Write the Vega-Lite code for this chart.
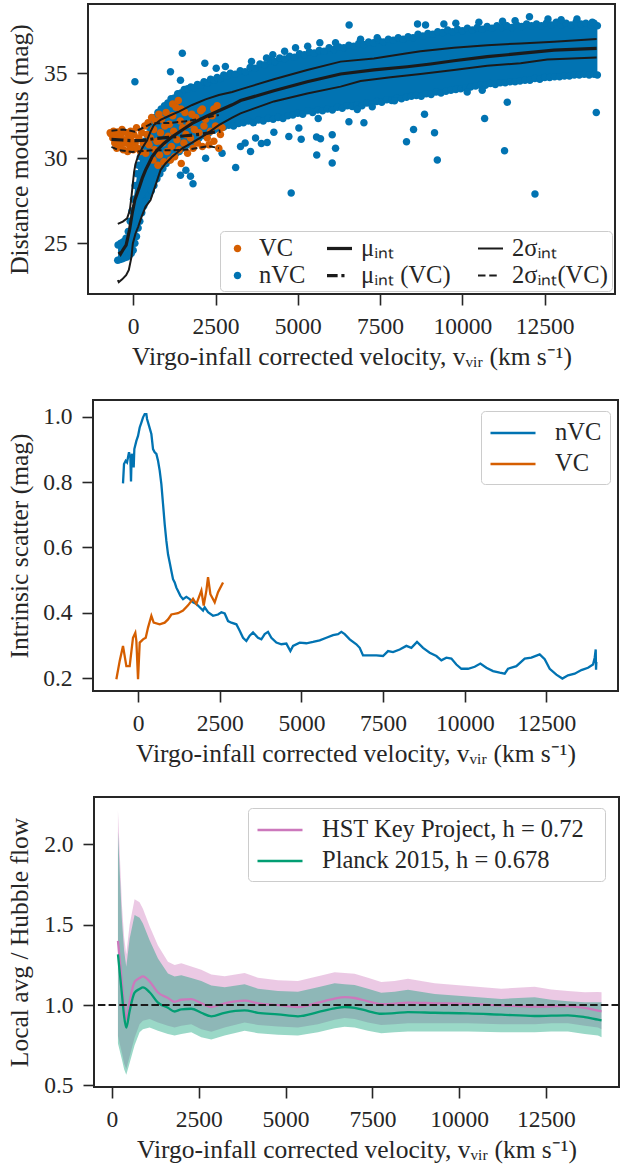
{
"$schema":"https://vega.github.io/schema/vega-lite/v6.json",
"padding":{"left":5,"top":3,"right":0,"bottom":0},
"background":"white",
"spacing":28,
"config":{
 "font":"Liberation Serif",
 "view":{"stroke":"#262626","strokeWidth":2},
 "axis":{"grid":false,"domain":false,"tickColor":"#262626","tickWidth":1.6,"tickSize":11,"labelFont":"Liberation Serif","labelFontSize":23.5,"labelColor":"#262626","titleFont":"Liberation Serif","titleFontSize":25.5,"titleFontWeight":"normal","titleColor":"#262626","labelPadding":9,"labelFlush":false,"labelOverlap":false},
 "axisY":{"labelPadding":10,"titleBaseline":"middle"},
 "axisX":{"titlePadding":7},
 "legend":{"labelFont":"Liberation Serif","labelFontSize":24.5,"labelColor":"#262626","strokeColor":"#cccccc","fillColor":"rgba(255,255,255,0.8)","cornerRadius":4,"labelLimit":0}
},
"resolve":{"scale":{"color":"independent","shape":"independent"},"legend":{"color":"independent","shape":"independent"}},
"datasets":{
"env":[
{"v":-460,"lo":24.1,"hi":24.85},{"v":-300,"lo":24.15,"hi":25.05},{"v":-150,"lo":24.25,"hi":25.6},{"v":-40,"lo":24.45,"hi":26.8},{"v":60,"lo":24.95,"hi":28.3},{"v":160,"lo":25.95,"hi":29.5},{"v":280,"lo":26.9,"hi":30.5},{"v":420,"lo":27.6,"hi":31.3},{"v":580,"lo":28.2,"hi":32.0},{"v":750,"lo":28.9,"hi":32.6},{"v":950,"lo":29.6,"hi":33.0},{"v":1200,"lo":30.1,"hi":33.45},{"v":1500,"lo":30.6,"hi":33.85},{"v":1800,"lo":30.95,"hi":34.1},{"v":2150,"lo":31.35,"hi":34.4},{"v":2550,"lo":31.7,"hi":34.65},{"v":2950,"lo":31.95,"hi":34.9},{"v":3400,"lo":32.1,"hi":35.1},{"v":3850,"lo":32.2,"hi":35.45},{"v":4300,"lo":32.3,"hi":35.7},{"v":4750,"lo":32.5,"hi":35.9},{"v":5200,"lo":32.65,"hi":36.05},{"v":5650,"lo":32.8,"hi":36.25},{"v":6100,"lo":32.9,"hi":36.4},{"v":6550,"lo":33.05,"hi":36.55},{"v":7000,"lo":33.15,"hi":36.65},{"v":7450,"lo":33.3,"hi":36.8},{"v":7900,"lo":33.45,"hi":36.9},{"v":8350,"lo":33.6,"hi":37.05},{"v":8800,"lo":33.7,"hi":37.2},{"v":9250,"lo":33.85,"hi":37.35},{"v":9700,"lo":34.0,"hi":37.45},{"v":10150,"lo":34.15,"hi":37.55},{"v":10600,"lo":34.3,"hi":37.55},{"v":11050,"lo":34.35,"hi":37.7},{"v":11500,"lo":34.5,"hi":37.7},{"v":11950,"lo":34.6,"hi":37.8},{"v":12400,"lo":34.65,"hi":37.8},{"v":12850,"lo":34.8,"hi":37.85},{"v":13300,"lo":34.85,"hi":37.85},{"v":13750,"lo":34.9,"hi":37.85},{"v":14100,"lo":34.9,"hi":37.8}
],
"pts":[
{"v":-460,"m":24.9,"g":"nVC"},{"v":-380,"m":25.0,"g":"nVC"},{"v":-300,"m":25.1,"g":"nVC"},{"v":-220,"m":25.3,"g":"nVC"},{"v":-150,"m":25.7,"g":"nVC"},{"v":-90,"m":26.3,"g":"nVC"},{"v":-40,"m":26.9,"g":"nVC"},{"v":10,"m":27.6,"g":"nVC"},{"v":60,"m":28.4,"g":"nVC"},{"v":110,"m":29.1,"g":"nVC"},{"v":160,"m":29.6,"g":"nVC"},{"v":220,"m":30.1,"g":"nVC"},{"v":280,"m":30.6,"g":"nVC"},{"v":350,"m":31.0,"g":"nVC"},{"v":420,"m":31.4,"g":"nVC"},{"v":500,"m":31.8,"g":"nVC"},{"v":580,"m":32.1,"g":"nVC"},{"v":660,"m":32.4,"g":"nVC"},{"v":750,"m":32.7,"g":"nVC"},{"v":850,"m":32.9,"g":"nVC"},{"v":950,"m":33.1,"g":"nVC"},{"v":1050,"m":33.25,"g":"nVC"},{"v":1150,"m":33.5,"g":"nVC"},{"v":1250,"m":33.55,"g":"nVC"},{"v":1350,"m":33.8,"g":"nVC"},{"v":1450,"m":33.85,"g":"nVC"},{"v":1550,"m":34.05,"g":"nVC"},{"v":1650,"m":34.1,"g":"nVC"},{"v":1750,"m":34.2,"g":"nVC"},{"v":1850,"m":34.15,"g":"nVC"},{"v":1950,"m":34.35,"g":"nVC"},{"v":2050,"m":34.3,"g":"nVC"},{"v":2150,"m":34.5,"g":"nVC"},{"v":2250,"m":34.45,"g":"nVC"},{"v":2350,"m":34.65,"g":"nVC"},{"v":2450,"m":34.6,"g":"nVC"},{"v":2550,"m":34.75,"g":"nVC"},{"v":2650,"m":34.7,"g":"nVC"},{"v":2750,"m":34.9,"g":"nVC"},{"v":2850,"m":34.85,"g":"nVC"},{"v":2950,"m":35.0,"g":"nVC"},{"v":3100,"m":34.95,"g":"nVC"},{"v":3250,"m":35.15,"g":"nVC"},{"v":3400,"m":35.1,"g":"nVC"},{"v":3550,"m":35.35,"g":"nVC"},{"v":3700,"m":35.3,"g":"nVC"},{"v":3850,"m":35.55,"g":"nVC"},{"v":4000,"m":35.5,"g":"nVC"},{"v":4150,"m":35.75,"g":"nVC"},{"v":4300,"m":35.7,"g":"nVC"},{"v":4450,"m":35.9,"g":"nVC"},{"v":4600,"m":35.85,"g":"nVC"},{"v":4750,"m":36.0,"g":"nVC"},{"v":4900,"m":35.95,"g":"nVC"},{"v":5050,"m":36.15,"g":"nVC"},{"v":5200,"m":36.1,"g":"nVC"},{"v":5350,"m":36.25,"g":"nVC"},{"v":5500,"m":36.2,"g":"nVC"},{"v":5650,"m":36.35,"g":"nVC"},{"v":5800,"m":36.3,"g":"nVC"},{"v":5950,"m":36.5,"g":"nVC"},{"v":6100,"m":36.4,"g":"nVC"},{"v":6250,"m":36.55,"g":"nVC"},{"v":6400,"m":36.5,"g":"nVC"},{"v":6550,"m":36.65,"g":"nVC"},{"v":6700,"m":36.6,"g":"nVC"},{"v":6850,"m":36.75,"g":"nVC"},{"v":7000,"m":36.7,"g":"nVC"},{"v":7150,"m":36.85,"g":"nVC"},{"v":7300,"m":36.8,"g":"nVC"},{"v":7450,"m":36.95,"g":"nVC"},{"v":7600,"m":36.85,"g":"nVC"},{"v":7750,"m":37.0,"g":"nVC"},{"v":7900,"m":36.95,"g":"nVC"},{"v":8050,"m":37.1,"g":"nVC"},{"v":8200,"m":37.0,"g":"nVC"},{"v":8350,"m":37.15,"g":"nVC"},{"v":8500,"m":37.1,"g":"nVC"},{"v":8650,"m":37.3,"g":"nVC"},{"v":8800,"m":37.2,"g":"nVC"},{"v":8950,"m":37.35,"g":"nVC"},{"v":9100,"m":37.3,"g":"nVC"},{"v":9250,"m":37.45,"g":"nVC"},{"v":9400,"m":37.4,"g":"nVC"},{"v":9550,"m":37.55,"g":"nVC"},{"v":9700,"m":37.45,"g":"nVC"},{"v":9850,"m":37.6,"g":"nVC"},{"v":10000,"m":37.5,"g":"nVC"},{"v":10150,"m":37.65,"g":"nVC"},{"v":10300,"m":37.55,"g":"nVC"},{"v":10450,"m":37.7,"g":"nVC"},{"v":10600,"m":37.6,"g":"nVC"},{"v":10750,"m":37.75,"g":"nVC"},{"v":10900,"m":37.65,"g":"nVC"},{"v":11050,"m":37.8,"g":"nVC"},{"v":11200,"m":37.7,"g":"nVC"},{"v":11350,"m":37.8,"g":"nVC"},{"v":11500,"m":37.7,"g":"nVC"},{"v":11650,"m":37.85,"g":"nVC"},{"v":11800,"m":37.75,"g":"nVC"},{"v":11950,"m":37.9,"g":"nVC"},{"v":12100,"m":37.8,"g":"nVC"},{"v":12250,"m":37.9,"g":"nVC"},{"v":12400,"m":37.8,"g":"nVC"},{"v":12550,"m":37.95,"g":"nVC"},{"v":12700,"m":37.85,"g":"nVC"},{"v":12850,"m":38.0,"g":"nVC"},{"v":13000,"m":37.85,"g":"nVC"},{"v":13150,"m":37.95,"g":"nVC"},{"v":13300,"m":37.85,"g":"nVC"},{"v":13450,"m":38.0,"g":"nVC"},{"v":13600,"m":37.9,"g":"nVC"},{"v":13750,"m":37.95,"g":"nVC"},{"v":13900,"m":37.85,"g":"nVC"},{"v":14000,"m":37.95,"g":"nVC"},{"v":14100,"m":37.8,"g":"nVC"},
{"v":-470,"m":24.0,"g":"nVC"},{"v":-400,"m":24.05,"g":"nVC"},{"v":-330,"m":24.1,"g":"nVC"},{"v":-260,"m":24.15,"g":"nVC"},{"v":-190,"m":24.2,"g":"nVC"},{"v":-120,"m":24.3,"g":"nVC"},{"v":-60,"m":24.4,"g":"nVC"},{"v":0,"m":24.6,"g":"nVC"},{"v":50,"m":25.0,"g":"nVC"},{"v":100,"m":25.4,"g":"nVC"},{"v":150,"m":25.9,"g":"nVC"},{"v":200,"m":26.3,"g":"nVC"},{"v":260,"m":26.8,"g":"nVC"},{"v":320,"m":27.2,"g":"nVC"},{"v":390,"m":27.5,"g":"nVC"},{"v":470,"m":27.8,"g":"nVC"},{"v":550,"m":28.1,"g":"nVC"},{"v":630,"m":28.4,"g":"nVC"},{"v":720,"m":28.8,"g":"nVC"},{"v":810,"m":29.1,"g":"nVC"},{"v":900,"m":29.4,"g":"nVC"},{"v":1000,"m":29.7,"g":"nVC"},{"v":1100,"m":29.9,"g":"nVC"},{"v":1200,"m":30.1,"g":"nVC"},{"v":1300,"m":30.3,"g":"nVC"},{"v":1400,"m":30.4,"g":"nVC"},{"v":1500,"m":30.6,"g":"nVC"},{"v":1600,"m":30.75,"g":"nVC"},{"v":1700,"m":30.85,"g":"nVC"},{"v":1800,"m":30.95,"g":"nVC"},{"v":1900,"m":31.1,"g":"nVC"},{"v":2000,"m":31.2,"g":"nVC"},{"v":2150,"m":31.35,"g":"nVC"},{"v":2300,"m":31.5,"g":"nVC"},{"v":2450,"m":31.65,"g":"nVC"},{"v":2600,"m":31.75,"g":"nVC"},{"v":2750,"m":31.85,"g":"nVC"},{"v":2900,"m":31.95,"g":"nVC"},{"v":3050,"m":31.9,"g":"nVC"},{"v":3200,"m":32.05,"g":"nVC"},{"v":3350,"m":32.1,"g":"nVC"},{"v":3500,"m":32.2,"g":"nVC"},{"v":3650,"m":32.1,"g":"nVC"},{"v":3800,"m":32.25,"g":"nVC"},{"v":3950,"m":32.2,"g":"nVC"},{"v":4100,"m":32.35,"g":"nVC"},{"v":4250,"m":32.3,"g":"nVC"},{"v":4400,"m":32.4,"g":"nVC"},{"v":4550,"m":32.35,"g":"nVC"},{"v":4700,"m":32.5,"g":"nVC"},{"v":4850,"m":32.55,"g":"nVC"},{"v":5000,"m":32.65,"g":"nVC"},{"v":5150,"m":32.6,"g":"nVC"},{"v":5300,"m":32.8,"g":"nVC"},{"v":5450,"m":32.7,"g":"nVC"},{"v":5600,"m":32.85,"g":"nVC"},{"v":5750,"m":32.8,"g":"nVC"},{"v":5900,"m":32.9,"g":"nVC"},{"v":6050,"m":32.85,"g":"nVC"},{"v":6200,"m":33.0,"g":"nVC"},{"v":6350,"m":32.95,"g":"nVC"},{"v":6500,"m":33.1,"g":"nVC"},{"v":6650,"m":33.05,"g":"nVC"},{"v":6800,"m":33.15,"g":"nVC"},{"v":6950,"m":33.1,"g":"nVC"},{"v":7100,"m":33.25,"g":"nVC"},{"v":7250,"m":33.2,"g":"nVC"},{"v":7400,"m":33.35,"g":"nVC"},{"v":7550,"m":33.3,"g":"nVC"},{"v":7700,"m":33.45,"g":"nVC"},{"v":7850,"m":33.4,"g":"nVC"},{"v":8000,"m":33.55,"g":"nVC"},{"v":8150,"m":33.5,"g":"nVC"},{"v":8300,"m":33.6,"g":"nVC"},{"v":8450,"m":33.65,"g":"nVC"},{"v":8600,"m":33.7,"g":"nVC"},{"v":8750,"m":33.65,"g":"nVC"},{"v":8900,"m":33.8,"g":"nVC"},{"v":9050,"m":33.75,"g":"nVC"},{"v":9200,"m":33.9,"g":"nVC"},{"v":9350,"m":33.85,"g":"nVC"},{"v":9500,"m":33.95,"g":"nVC"},{"v":9650,"m":34.0,"g":"nVC"},{"v":9800,"m":34.05,"g":"nVC"},{"v":9950,"m":34.1,"g":"nVC"},{"v":10100,"m":34.15,"g":"nVC"},{"v":10250,"m":34.2,"g":"nVC"},{"v":10400,"m":34.25,"g":"nVC"},{"v":10550,"m":34.3,"g":"nVC"},{"v":10700,"m":34.3,"g":"nVC"},{"v":10850,"m":34.4,"g":"nVC"},{"v":11000,"m":34.35,"g":"nVC"},{"v":11150,"m":34.45,"g":"nVC"},{"v":11300,"m":34.45,"g":"nVC"},{"v":11450,"m":34.5,"g":"nVC"},{"v":11600,"m":34.5,"g":"nVC"},{"v":11750,"m":34.55,"g":"nVC"},{"v":11900,"m":34.6,"g":"nVC"},{"v":12050,"m":34.6,"g":"nVC"},{"v":12200,"m":34.7,"g":"nVC"},{"v":12350,"m":34.65,"g":"nVC"},{"v":12500,"m":34.75,"g":"nVC"},{"v":12650,"m":34.75,"g":"nVC"},{"v":12800,"m":34.8,"g":"nVC"},{"v":12950,"m":34.8,"g":"nVC"},{"v":13100,"m":34.85,"g":"nVC"},{"v":13250,"m":34.85,"g":"nVC"},{"v":13400,"m":34.9,"g":"nVC"},{"v":13550,"m":34.9,"g":"nVC"},{"v":13700,"m":34.95,"g":"nVC"},{"v":13850,"m":34.9,"g":"nVC"},{"v":14000,"m":34.95,"g":"nVC"},{"v":14100,"m":34.9,"g":"nVC"},
{"v":52,"m":34.5,"g":"nVC"},{"v":1133,"m":35.1,"g":"nVC"},{"v":1436,"m":34.6,"g":"nVC"},{"v":1492,"m":36.18,"g":"nVC"},{"v":2176,"m":35.6,"g":"nVC"},{"v":2522,"m":35.3,"g":"nVC"},{"v":2800,"m":35.4,"g":"nVC"},{"v":3594,"m":35.7,"g":"nVC"},{"v":4050,"m":35.9,"g":"nVC"},{"v":4240,"m":36.1,"g":"nVC"},{"v":4600,"m":36.3,"g":"nVC"},{"v":4931,"m":36.5,"g":"nVC"},{"v":5300,"m":36.6,"g":"nVC"},{"v":5670,"m":36.8,"g":"nVC"},{"v":6146,"m":36.8,"g":"nVC"},{"v":6559,"m":37.84,"g":"nVC"},{"v":6906,"m":37.0,"g":"nVC"},{"v":7412,"m":37.1,"g":"nVC"},{"v":8637,"m":37.9,"g":"nVC"},{"v":8880,"m":37.84,"g":"nVC"},{"v":9437,"m":37.9,"g":"nVC"},{"v":9800,"m":37.95,"g":"nVC"},{"v":10500,"m":38.0,"g":"nVC"},{"v":11219,"m":38.06,"g":"nVC"},{"v":11600,"m":38.1,"g":"nVC"},{"v":12037,"m":38.33,"g":"nVC"},{"v":12599,"m":38.2,"g":"nVC"},{"v":13000,"m":38.15,"g":"nVC"},{"v":13480,"m":38.2,"g":"nVC"},{"v":13945,"m":38.0,"g":"nVC"},
{"v":1436,"m":29.0,"g":"nVC"},{"v":1600,"m":29.3,"g":"nVC"},{"v":1740,"m":28.95,"g":"nVC"},{"v":1817,"m":28.5,"g":"nVC"},{"v":2200,"m":30.0,"g":"nVC"},{"v":2700,"m":30.3,"g":"nVC"},{"v":3113,"m":29.46,"g":"nVC"},{"v":3260,"m":30.7,"g":"nVC"},{"v":3400,"m":30.9,"g":"nVC"},{"v":3564,"m":30.4,"g":"nVC"},{"v":3716,"m":31.19,"g":"nVC"},{"v":3894,"m":30.87,"g":"nVC"},{"v":4070,"m":30.93,"g":"nVC"},{"v":4273,"m":31.54,"g":"nVC"},{"v":4728,"m":31.29,"g":"nVC"},{"v":4799,"m":27.96,"g":"nVC"},{"v":5032,"m":31.78,"g":"nVC"},{"v":5103,"m":31.13,"g":"nVC"},{"v":5569,"m":31.25,"g":"nVC"},{"v":5575,"m":30.2,"g":"nVC"},{"v":5620,"m":32.35,"g":"nVC"},{"v":5690,"m":31.15,"g":"nVC"},{"v":6045,"m":31.39,"g":"nVC"},{"v":6045,"m":29.72,"g":"nVC"},{"v":6146,"m":30.6,"g":"nVC"},{"v":6553,"m":32.16,"g":"nVC"},{"v":6806,"m":32.88,"g":"nVC"},{"v":7008,"m":32.1,"g":"nVC"},{"v":7261,"m":33.04,"g":"nVC"},{"v":7938,"m":33.39,"g":"nVC"},{"v":8302,"m":30.98,"g":"nVC"},{"v":8516,"m":31.7,"g":"nVC"},{"v":8849,"m":32.59,"g":"nVC"},{"v":9153,"m":31.5,"g":"nVC"},{"v":9238,"m":29.9,"g":"nVC"},{"v":10146,"m":33.9,"g":"nVC"},{"v":10602,"m":34.0,"g":"nVC"},{"v":10675,"m":32.35,"g":"nVC"},{"v":11280,"m":30.45,"g":"nVC"},{"v":11363,"m":33.3,"g":"nVC"},{"v":12204,"m":27.9,"g":"nVC"},{"v":14066,"m":32.7,"g":"nVC"},
{"v":-700,"m":31.5,"g":"VC"},{"v":-680,"m":31.45,"g":"VC"},{"v":-620,"m":31.2,"g":"VC"},{"v":-600,"m":31.6,"g":"VC"},{"v":-560,"m":30.9,"g":"VC"},{"v":-520,"m":31.3,"g":"VC"},{"v":-500,"m":30.6,"g":"VC"},{"v":-470,"m":31.55,"g":"VC"},{"v":-430,"m":31.0,"g":"VC"},{"v":-400,"m":30.8,"g":"VC"},{"v":-380,"m":31.4,"g":"VC"},{"v":-340,"m":31.7,"g":"VC"},{"v":-300,"m":30.5,"g":"VC"},{"v":-280,"m":31.1,"g":"VC"},{"v":-240,"m":30.9,"g":"VC"},{"v":-200,"m":31.5,"g":"VC"},{"v":-170,"m":30.4,"g":"VC"},{"v":-140,"m":31.2,"g":"VC"},{"v":-100,"m":30.7,"g":"VC"},{"v":-80,"m":31.6,"g":"VC"},{"v":-40,"m":31.0,"g":"VC"},{"v":0,"m":30.5,"g":"VC"},{"v":20,"m":31.4,"g":"VC"},{"v":60,"m":30.9,"g":"VC"},{"v":100,"m":31.8,"g":"VC"},{"v":130,"m":30.6,"g":"VC"},{"v":170,"m":31.2,"g":"VC"},{"v":220,"m":30.4,"g":"VC"},{"v":260,"m":31.5,"g":"VC"},{"v":300,"m":30.9,"g":"VC"},
{"v":350,"m":31.9,"g":"VC"},{"v":380,"m":30.3,"g":"VC"},{"v":420,"m":31.4,"g":"VC"},{"v":450,"m":32.1,"g":"VC"},{"v":480,"m":30.8,"g":"VC"},{"v":520,"m":31.2,"g":"VC"},{"v":560,"m":32.4,"g":"VC"},{"v":600,"m":29.9,"g":"VC"},{"v":620,"m":31.7,"g":"VC"},{"v":650,"m":30.5,"g":"VC"},{"v":680,"m":32.2,"g":"VC"},{"v":720,"m":31.0,"g":"VC"},{"v":750,"m":29.6,"g":"VC"},{"v":780,"m":32.6,"g":"VC"},{"v":800,"m":30.2,"g":"VC"},{"v":830,"m":31.5,"g":"VC"},{"v":860,"m":32.3,"g":"VC"},{"v":900,"m":30.9,"g":"VC"},{"v":930,"m":29.8,"g":"VC"},{"v":960,"m":31.9,"g":"VC"},{"v":1000,"m":32.7,"g":"VC"},{"v":1030,"m":30.4,"g":"VC"},{"v":1060,"m":31.3,"g":"VC"},{"v":1100,"m":32.0,"g":"VC"},{"v":1130,"m":29.9,"g":"VC"},{"v":1160,"m":30.7,"g":"VC"},{"v":1200,"m":32.5,"g":"VC"},{"v":1200,"m":33.2,"g":"VC"},{"v":1230,"m":31.6,"g":"VC"},{"v":1260,"m":30.1,"g":"VC"},{"v":1300,"m":33.0,"g":"VC"},{"v":1330,"m":31.1,"g":"VC"},{"v":1370,"m":33.4,"g":"VC"},{"v":1400,"m":30.5,"g":"VC"},{"v":1430,"m":32.2,"g":"VC"},{"v":1450,"m":32.9,"g":"VC"},{"v":1460,"m":29.7,"g":"VC"},{"v":1500,"m":31.8,"g":"VC"},{"v":1540,"m":30.9,"g":"VC"},{"v":1570,"m":32.7,"g":"VC"},{"v":1600,"m":31.4,"g":"VC"},{"v":1650,"m":30.3,"g":"VC"},{"v":1700,"m":32.0,"g":"VC"},{"v":1740,"m":31.2,"g":"VC"},{"v":1780,"m":32.6,"g":"VC"},{"v":1820,"m":30.6,"g":"VC"},{"v":1860,"m":31.7,"g":"VC"},{"v":1900,"m":32.4,"g":"VC"},{"v":1950,"m":30.9,"g":"VC"},{"v":2000,"m":31.5,"g":"VC"},{"v":2050,"m":32.8,"g":"VC"},{"v":2100,"m":30.7,"g":"VC"},{"v":2100,"m":32.9,"g":"VC"},{"v":2150,"m":31.9,"g":"VC"},{"v":2200,"m":32.3,"g":"VC"},{"v":2250,"m":31.2,"g":"VC"},{"v":2300,"m":30.8,"g":"VC"},{"v":2350,"m":31.6,"g":"VC"},{"v":2400,"m":32.5,"g":"VC"},{"v":2450,"m":31.0,"g":"VC"},{"v":2450,"m":32.9,"g":"VC"},{"v":2500,"m":31.9,"g":"VC"},{"v":2550,"m":33.1,"g":"VC"},{"v":2600,"m":30.6,"g":"VC"},{"v":2650,"m":31.4,"g":"VC"},{"v":2700,"m":31.8,"g":"VC"}
],
"lines":[
{"v":-437,"m":24.5,"k":"mu"},{"v":-386,"m":24.37,"k":"mu"},{"v":-316,"m":24.6,"k":"mu"},{"v":-215,"m":24.9,"k":"mu"},{"v":-113,"m":25.78,"k":"mu"},{"v":-32,"m":26.76,"k":"mu"},{"v":49,"m":27.55,"k":"mu"},{"v":120,"m":27.94,"k":"mu"},{"v":191,"m":28.33,"k":"mu"},{"v":273,"m":28.82,"k":"mu"},{"v":374,"m":29.31,"k":"mu"},{"v":476,"m":29.7,"k":"mu"},{"v":577,"m":30.1,"k":"mu"},{"v":729,"m":30.49,"k":"mu"},{"v":932,"m":30.88,"k":"mu"},{"v":1185,"m":31.27,"k":"mu"},{"v":1489,"m":31.67,"k":"mu"},{"v":1792,"m":32.06,"k":"mu"},{"v":2197,"m":32.45,"k":"mu"},{"v":2602,"m":32.8,"k":"mu"},{"v":3007,"m":33.15,"k":"mu"},{"v":3260,"m":33.4,"k":"mu"},{"v":4273,"m":33.98,"k":"mu"},{"v":5286,"m":34.51,"k":"mu"},{"v":6299,"m":34.96,"k":"mu"},{"v":7312,"m":35.2,"k":"mu"},{"v":8325,"m":35.39,"k":"mu"},{"v":9034,"m":35.55,"k":"mu"},{"v":9741,"m":35.74,"k":"mu"},{"v":10754,"m":35.98,"k":"mu"},{"v":11767,"m":36.17,"k":"mu"},{"v":12780,"m":36.37,"k":"mu"},{"v":14076,"m":36.47,"k":"mu"},
{"v":-467,"m":26.14,"k":"up"},{"v":-316,"m":26.28,"k":"up"},{"v":-184,"m":26.47,"k":"up"},{"v":-102,"m":26.96,"k":"up"},{"v":-52,"m":27.75,"k":"up"},{"v":-11,"m":28.53,"k":"up"},{"v":29,"m":29.22,"k":"up"},{"v":70,"m":29.67,"k":"up"},{"v":141,"m":30.1,"k":"up"},{"v":273,"m":30.59,"k":"up"},{"v":425,"m":31.08,"k":"up"},{"v":526,"m":31.57,"k":"up"},{"v":628,"m":31.96,"k":"up"},{"v":830,"m":32.26,"k":"up"},{"v":1083,"m":32.49,"k":"up"},{"v":1387,"m":32.75,"k":"up"},{"v":1792,"m":33.14,"k":"up"},{"v":2197,"m":33.47,"k":"up"},{"v":2602,"m":33.73,"k":"up"},{"v":3007,"m":33.9,"k":"up"},{"v":3260,"m":34.06,"k":"up"},{"v":4273,"m":34.65,"k":"up"},{"v":5286,"m":35.2,"k":"up"},{"v":6299,"m":35.69,"k":"up"},{"v":7312,"m":35.88,"k":"up"},{"v":8325,"m":36.18,"k":"up"},{"v":8728,"m":36.3,"k":"up"},{"v":9741,"m":36.51,"k":"up"},{"v":10754,"m":36.66,"k":"up"},{"v":11767,"m":36.76,"k":"up"},{"v":12780,"m":36.86,"k":"up"},{"v":14076,"m":37.02,"k":"up"},
{"v":-467,"m":22.84,"k":"lo"},{"v":-437,"m":22.72,"k":"lo"},{"v":-336,"m":22.88,"k":"lo"},{"v":-215,"m":23.13,"k":"lo"},{"v":-133,"m":23.43,"k":"lo"},{"v":-52,"m":24.2,"k":"lo"},{"v":-11,"m":24.99,"k":"lo"},{"v":70,"m":25.58,"k":"lo"},{"v":151,"m":25.97,"k":"lo"},{"v":253,"m":26.56,"k":"lo"},{"v":374,"m":27.15,"k":"lo"},{"v":526,"m":27.55,"k":"lo"},{"v":628,"m":28.14,"k":"lo"},{"v":729,"m":28.72,"k":"lo"},{"v":830,"m":29.31,"k":"lo"},{"v":982,"m":29.7,"k":"lo"},{"v":1185,"m":30.1,"k":"lo"},{"v":1489,"m":30.59,"k":"lo"},{"v":1792,"m":30.92,"k":"lo"},{"v":2197,"m":31.4,"k":"lo"},{"v":2602,"m":31.95,"k":"lo"},{"v":3007,"m":32.4,"k":"lo"},{"v":3260,"m":32.65,"k":"lo"},{"v":4273,"m":33.35,"k":"lo"},{"v":5286,"m":33.82,"k":"lo"},{"v":6299,"m":34.22,"k":"lo"},{"v":6907,"m":34.55,"k":"lo"},{"v":7819,"m":34.77,"k":"lo"},{"v":8728,"m":34.96,"k":"lo"},{"v":9741,"m":35.2,"k":"lo"},{"v":10754,"m":35.45,"k":"lo"},{"v":11767,"m":35.59,"k":"lo"},{"v":12577,"m":35.82,"k":"lo"},{"v":14076,"m":35.94,"k":"lo"},
{"v":-660,"m":31.12,"k":"muVC"},{"v":-340,"m":31.08,"k":"muVC"},{"v":-30,"m":31.04,"k":"muVC"},{"v":300,"m":31.06,"k":"muVC"},{"v":580,"m":31.14,"k":"muVC"},{"v":1080,"m":31.24,"k":"muVC"},{"v":1590,"m":31.33,"k":"muVC"},{"v":2100,"m":31.43,"k":"muVC"},{"v":2650,"m":31.6,"k":"muVC"},
{"v":-660,"m":31.62,"k":"upVC"},{"v":-300,"m":31.7,"k":"upVC"},{"v":50,"m":31.57,"k":"upVC"},{"v":300,"m":31.8,"k":"upVC"},{"v":580,"m":32.06,"k":"upVC"},{"v":1080,"m":32.08,"k":"upVC"},{"v":1590,"m":32.18,"k":"upVC"},{"v":2100,"m":32.35,"k":"upVC"},{"v":2600,"m":32.55,"k":"upVC"},
{"v":-660,"m":30.68,"k":"loVC"},{"v":-440,"m":30.48,"k":"loVC"},{"v":-30,"m":30.38,"k":"loVC"},{"v":580,"m":30.48,"k":"loVC"},{"v":1185,"m":30.48,"k":"loVC"},{"v":1690,"m":30.52,"k":"loVC"},{"v":2300,"m":30.72,"k":"loVC"},{"v":2600,"m":30.6,"k":"loVC"}
],
"scatter":[
{"v":-459,"s":0.796,"g":"nVC"},{"v":-428,"s":0.855,"g":"nVC"},{"v":-377,"s":0.865,"g":"nVC"},{"v":-336,"s":0.86,"g":"nVC"},{"v":-275,"s":0.891,"g":"nVC"},{"v":-234,"s":0.876,"g":"nVC"},{"v":-214,"s":0.802,"g":"nVC"},{"v":-195,"s":0.88,"g":"nVC"},{"v":-173,"s":0.886,"g":"nVC"},{"v":-132,"s":0.845,"g":"nVC"},{"v":-112,"s":0.901,"g":"nVC"},{"v":-50,"s":0.926,"g":"nVC"},{"v":1,"s":0.941,"g":"nVC"},{"v":52,"s":0.967,"g":"nVC"},{"v":103,"s":0.982,"g":"nVC"},{"v":154,"s":0.998,"g":"nVC"},{"v":205,"s":1.008,"g":"nVC"},{"v":256,"s":1.008,"g":"nVC"},{"v":277,"s":0.993,"g":"nVC"},{"v":338,"s":0.972,"g":"nVC"},{"v":409,"s":0.947,"g":"nVC"},{"v":460,"s":0.901,"g":"nVC"},{"v":511,"s":0.891,"g":"nVC"},{"v":562,"s":0.886,"g":"nVC"},{"v":613,"s":0.865,"g":"nVC"},{"v":664,"s":0.835,"g":"nVC"},{"v":715,"s":0.794,"g":"nVC"},{"v":766,"s":0.733,"g":"nVC"},{"v":817,"s":0.671,"g":"nVC"},{"v":868,"s":0.62,"g":"nVC"},{"v":919,"s":0.579,"g":"nVC"},{"v":970,"s":0.554,"g":"nVC"},{"v":1021,"s":0.528,"g":"nVC"},{"v":1072,"s":0.503,"g":"nVC"},{"v":1123,"s":0.493,"g":"nVC"},{"v":1174,"s":0.477,"g":"nVC"},{"v":1225,"s":0.467,"g":"nVC"},{"v":1297,"s":0.452,"g":"nVC"},{"v":1378,"s":0.442,"g":"nVC"},{"v":1480,"s":0.449,"g":"nVC"},{"v":1582,"s":0.442,"g":"nVC"},{"v":1684,"s":0.432,"g":"nVC"},{"v":1786,"s":0.427,"g":"nVC"},{"v":1888,"s":0.417,"g":"nVC"},{"v":1990,"s":0.407,"g":"nVC"},{"v":2041,"s":0.417,"g":"nVC"},{"v":2143,"s":0.402,"g":"nVC"},{"v":2296,"s":0.391,"g":"nVC"},{"v":2449,"s":0.395,"g":"nVC"},{"v":2551,"s":0.402,"g":"nVC"},{"v":2653,"s":0.398,"g":"nVC"},{"v":2755,"s":0.375,"g":"nVC"},{"v":2857,"s":0.37,"g":"nVC"},{"v":3010,"s":0.365,"g":"nVC"},{"v":3112,"s":0.345,"g":"nVC"},{"v":3214,"s":0.324,"g":"nVC"},{"v":3316,"s":0.314,"g":"nVC"},{"v":3418,"s":0.33,"g":"nVC"},{"v":3520,"s":0.34,"g":"nVC"},{"v":3673,"s":0.324,"g":"nVC"},{"v":3775,"s":0.319,"g":"nVC"},{"v":3877,"s":0.335,"g":"nVC"},{"v":3979,"s":0.342,"g":"nVC"},{"v":4081,"s":0.324,"g":"nVC"},{"v":4234,"s":0.309,"g":"nVC"},{"v":4387,"s":0.304,"g":"nVC"},{"v":4540,"s":0.306,"g":"nVC"},{"v":4663,"s":0.283,"g":"nVC"},{"v":4744,"s":0.299,"g":"nVC"},{"v":4948,"s":0.309,"g":"nVC"},{"v":5152,"s":0.307,"g":"nVC"},{"v":5356,"s":0.311,"g":"nVC"},{"v":5560,"s":0.316,"g":"nVC"},{"v":5764,"s":0.324,"g":"nVC"},{"v":5968,"s":0.332,"g":"nVC"},{"v":6121,"s":0.335,"g":"nVC"},{"v":6223,"s":0.342,"g":"nVC"},{"v":6325,"s":0.335,"g":"nVC"},{"v":6478,"s":0.319,"g":"nVC"},{"v":6682,"s":0.304,"g":"nVC"},{"v":6784,"s":0.293,"g":"nVC"},{"v":6886,"s":0.27,"g":"nVC"},{"v":7090,"s":0.27,"g":"nVC"},{"v":7294,"s":0.27,"g":"nVC"},{"v":7498,"s":0.268,"g":"nVC"},{"v":7651,"s":0.283,"g":"nVC"},{"v":7804,"s":0.28,"g":"nVC"},{"v":8008,"s":0.288,"g":"nVC"},{"v":8212,"s":0.299,"g":"nVC"},{"v":8365,"s":0.293,"g":"nVC"},{"v":8538,"s":0.311,"g":"nVC"},{"v":8722,"s":0.293,"g":"nVC"},{"v":8926,"s":0.278,"g":"nVC"},{"v":9130,"s":0.268,"g":"nVC"},{"v":9283,"s":0.255,"g":"nVC"},{"v":9436,"s":0.263,"g":"nVC"},{"v":9589,"s":0.26,"g":"nVC"},{"v":9742,"s":0.242,"g":"nVC"},{"v":9895,"s":0.229,"g":"nVC"},{"v":10099,"s":0.229,"g":"nVC"},{"v":10303,"s":0.235,"g":"nVC"},{"v":10477,"s":0.245,"g":"nVC"},{"v":10660,"s":0.232,"g":"nVC"},{"v":10864,"s":0.222,"g":"nVC"},{"v":11068,"s":0.217,"g":"nVC"},{"v":11221,"s":0.214,"g":"nVC"},{"v":11323,"s":0.229,"g":"nVC"},{"v":11578,"s":0.237,"g":"nVC"},{"v":11833,"s":0.26,"g":"nVC"},{"v":12037,"s":0.263,"g":"nVC"},{"v":12292,"s":0.273,"g":"nVC"},{"v":12445,"s":0.258,"g":"nVC"},{"v":12598,"s":0.229,"g":"nVC"},{"v":12802,"s":0.211,"g":"nVC"},{"v":12986,"s":0.199,"g":"nVC"},{"v":13159,"s":0.209,"g":"nVC"},{"v":13363,"s":0.214,"g":"nVC"},{"v":13567,"s":0.225,"g":"nVC"},{"v":13771,"s":0.232,"g":"nVC"},{"v":13924,"s":0.242,"g":"nVC"},{"v":13975,"s":0.263,"g":"nVC"},{"v":14006,"s":0.288,"g":"nVC"},{"v":14016,"s":0.226,"g":"nVC"},{"v":14026,"s":0.25,"g":"nVC"},
{"v":-662,"s":0.197,"g":"VC"},{"v":-560,"s":0.253,"g":"VC"},{"v":-459,"s":0.299,"g":"VC"},{"v":-356,"s":0.237,"g":"VC"},{"v":-255,"s":0.237,"g":"VC"},{"v":-153,"s":0.324,"g":"VC"},{"v":-82,"s":0.339,"g":"VC"},{"v":-50,"s":0.314,"g":"VC"},{"v":1,"s":0.197,"g":"VC"},{"v":52,"s":0.309,"g":"VC"},{"v":154,"s":0.319,"g":"VC"},{"v":236,"s":0.324,"g":"VC"},{"v":307,"s":0.355,"g":"VC"},{"v":409,"s":0.391,"g":"VC"},{"v":480,"s":0.37,"g":"VC"},{"v":664,"s":0.365,"g":"VC"},{"v":817,"s":0.37,"g":"VC"},{"v":919,"s":0.38,"g":"VC"},{"v":1021,"s":0.395,"g":"VC"},{"v":1225,"s":0.399,"g":"VC"},{"v":1378,"s":0.407,"g":"VC"},{"v":1531,"s":0.423,"g":"VC"},{"v":1684,"s":0.443,"g":"VC"},{"v":1786,"s":0.427,"g":"VC"},{"v":1939,"s":0.468,"g":"VC"},{"v":2010,"s":0.422,"g":"VC"},{"v":2092,"s":0.468,"g":"VC"},{"v":2143,"s":0.509,"g":"VC"},{"v":2215,"s":0.457,"g":"VC"},{"v":2347,"s":0.432,"g":"VC"},{"v":2449,"s":0.463,"g":"VC"},{"v":2602,"s":0.493,"g":"VC"}
],
"ratio":[
{"v":172,"hst":1.4,"hlo":0.807,"hhi":2.21,"pl":1.316,"plo":0.76,"phi":2.081},
{"v":287,"hst":1.133,"hlo":0.701,"hhi":1.62,"pl":1.067,"plo":0.66,"phi":1.525},
{"v":350,"hst":0.988,"hlo":0.637,"hhi":1.42,"pl":0.93,"plo":0.6,"phi":1.337},
{"v":412,"hst":0.912,"hlo":0.602,"hhi":1.316,"pl":0.859,"plo":0.567,"phi":1.239},
{"v":508,"hst":1.023,"hlo":0.68,"hhi":1.5,"pl":0.963,"plo":0.64,"phi":1.412},
{"v":651,"hst":1.144,"hlo":0.797,"hhi":1.658,"pl":1.077,"plo":0.75,"phi":1.561},
{"v":795,"hst":1.168,"hlo":0.881,"hhi":1.64,"pl":1.1,"plo":0.83,"phi":1.544},
{"v":891,"hst":1.179,"hlo":0.903,"hhi":1.6,"pl":1.11,"plo":0.85,"phi":1.507},
{"v":1084,"hst":1.147,"hlo":0.913,"hhi":1.49,"pl":1.08,"plo":0.86,"phi":1.403},
{"v":1324,"hst":1.078,"hlo":0.892,"hhi":1.37,"pl":1.015,"plo":0.84,"phi":1.29},
{"v":1612,"hst":1.044,"hlo":0.871,"hhi":1.27,"pl":0.983,"plo":0.82,"phi":1.196},
{"v":1804,"hst":1.02,"hlo":0.86,"hhi":1.25,"pl":0.96,"plo":0.81,"phi":1.177},
{"v":1996,"hst":1.033,"hlo":0.871,"hhi":1.26,"pl":0.973,"plo":0.82,"phi":1.186},
{"v":2284,"hst":1.037,"hlo":0.881,"hhi":1.24,"pl":0.977,"plo":0.83,"phi":1.168},
{"v":2572,"hst":1.011,"hlo":0.85,"hhi":1.22,"pl":0.952,"plo":0.8,"phi":1.149},
{"v":2860,"hst":0.988,"hlo":0.834,"hhi":1.19,"pl":0.93,"plo":0.785,"phi":1.121},
{"v":3244,"hst":1.011,"hlo":0.86,"hhi":1.18,"pl":0.952,"plo":0.81,"phi":1.111},
{"v":3820,"hst":1.027,"hlo":0.892,"hhi":1.2,"pl":0.967,"plo":0.84,"phi":1.13},
{"v":4204,"hst":1.011,"hlo":0.876,"hhi":1.17,"pl":0.952,"plo":0.825,"phi":1.102},
{"v":4780,"hst":1.0,"hlo":0.866,"hhi":1.155,"pl":0.942,"plo":0.815,"phi":1.088},
{"v":5356,"hst":0.988,"hlo":0.86,"hhi":1.15,"pl":0.93,"plo":0.81,"phi":1.083},
{"v":5933,"hst":1.015,"hlo":0.881,"hhi":1.18,"pl":0.956,"plo":0.83,"phi":1.111},
{"v":6413,"hst":1.04,"hlo":0.908,"hhi":1.205,"pl":0.979,"plo":0.855,"phi":1.135},
{"v":6700,"hst":1.049,"hlo":0.919,"hhi":1.2,"pl":0.988,"plo":0.865,"phi":1.13},
{"v":6988,"hst":1.044,"hlo":0.913,"hhi":1.195,"pl":0.983,"plo":0.86,"phi":1.125},
{"v":7372,"hst":1.023,"hlo":0.892,"hhi":1.17,"pl":0.963,"plo":0.84,"phi":1.102},
{"v":7756,"hst":1.005,"hlo":0.876,"hhi":1.143,"pl":0.946,"plo":0.825,"phi":1.076},
{"v":8140,"hst":1.009,"hlo":0.881,"hhi":1.15,"pl":0.95,"plo":0.83,"phi":1.083},
{"v":8525,"hst":1.015,"hlo":0.887,"hhi":1.164,"pl":0.956,"plo":0.835,"phi":1.096},
{"v":9293,"hst":1.011,"hlo":0.887,"hhi":1.135,"pl":0.952,"plo":0.835,"phi":1.069},
{"v":10253,"hst":1.007,"hlo":0.887,"hhi":1.118,"pl":0.948,"plo":0.835,"phi":1.053},
{"v":11213,"hst":0.998,"hlo":0.881,"hhi":1.102,"pl":0.94,"plo":0.83,"phi":1.038},
{"v":12172,"hst":0.99,"hlo":0.881,"hhi":1.114,"pl":0.932,"plo":0.83,"phi":1.049},
{"v":12652,"hst":0.992,"hlo":0.887,"hhi":1.097,"pl":0.934,"plo":0.835,"phi":1.033},
{"v":13134,"hst":0.994,"hlo":0.887,"hhi":1.087,"pl":0.936,"plo":0.835,"phi":1.024},
{"v":13614,"hst":0.982,"hlo":0.871,"hhi":1.08,"pl":0.925,"plo":0.82,"phi":1.017},
{"v":13998,"hst":0.965,"hlo":0.86,"hhi":1.081,"pl":0.909,"plo":0.81,"phi":1.018},
{"v":14100,"hst":0.961,"hlo":0.85,"hhi":1.08,"pl":0.905,"plo":0.8,"phi":1.017}
]
},
"vconcat":[
{"hconcat":[
{"width":1,"height":10,"data":{"values":[{"z":0}]},"mark":{"type":"point","opacity":0,"size":1},"view":{"stroke":null}},
{
"name":"p1","width":527,"height":290,
"layer":[
{"data":{"name":"env"},"mark":{"type":"area","color":"#0173b2","opacity":1},
 "encoding":{
  "x":{"field":"v","type":"quantitative","scale":{"domain":[-1373,14635],"nice":false,"zero":false},"axis":{"values":[0,2500,5000,7500,10000,12500],"format":"d","title":"Virgo-infall corrected velocity, vᵥᵢᵣ (km s⁻¹)"}},
  "y":{"field":"lo","type":"quantitative","scale":{"domain":[22.02,39.08],"nice":false,"zero":false},"axis":{"values":[25,30,35],"format":"d","title":"Distance modulus (mag)","titleX":-68.5}},
  "y2":{"field":"hi"}}},
{"data":{"name":"pts"},"mark":{"type":"point","filled":true,"opacity":1,"size":625},
 "encoding":{
  "x":{"field":"v","type":"quantitative","scale":{"domain":[-1373,14635],"nice":false,"zero":false},"axis":{"values":[0,2500,5000,7500,10000,12500],"format":"d","title":"Virgo-infall corrected velocity, vᵥᵢᵣ (km s⁻¹)"}},
  "y":{"field":"m","type":"quantitative","scale":{"domain":[22.02,39.08],"nice":false,"zero":false},"axis":{"values":[25,30,35],"format":"d","title":"Distance modulus (mag)","titleX":-68.5}},
  "color":{"field":"g","type":"nominal","scale":{"domain":["VC","nVC","mu","muVC","s2","s2VC"],"range":["#d55e00","#0173b2","#1b1b1b","#1b1b1b","#1b1b1b","#1b1b1b"]},
   "legend":{"title":null,"orient":"none","legendX":132,"legendY":227,"columns":3,"symbolSize":625,"labelOffset":8,"columnPadding":20,"rowPadding":2,"padding":4,
    "labelExpr":"datum.value === 'mu' ? 'μᵢₙₜ' : datum.value === 's2' ? '2σᵢₙₜ' : datum.value === 'muVC' ? 'μᵢₙₜ  (VC)' : datum.value === 's2VC' ? '2σᵢₙₜ(VC)' : datum.label"}},
  "shape":{"field":"g","type":"nominal","scale":{"domain":["VC","nVC","mu","muVC","s2","s2VC"],"range":["M0.3,0A0.3,0.3,0,1,1,-0.3,0A0.3,0.3,0,1,1,0.3,0Z","M0.3,0A0.3,0.3,0,1,1,-0.3,0A0.3,0.3,0,1,1,0.3,0Z","M-1,-0.13H1V0.13H-1Z","M-1,-0.13H-0.15V0.13H-1Z M0.15,-0.13H0.4V0.13H0.15Z","M-1,-0.08H1V0.08H-1Z","M-1,-0.08H-0.4V0.08H-1Z M-0.1,-0.08H0.5V0.08H-0.1Z"]},
   "legend":{"title":null,"orient":"none","legendX":132,"legendY":227,"columns":3,"symbolSize":625,"labelOffset":8,"columnPadding":20,"rowPadding":2,"padding":4,
    "labelExpr":"datum.value === 'mu' ? 'μᵢₙₜ' : datum.value === 's2' ? '2σᵢₙₜ' : datum.value === 'muVC' ? 'μᵢₙₜ  (VC)' : datum.value === 's2VC' ? '2σᵢₙₜ(VC)' : datum.label"}}}},
{"data":{"name":"lines"},"transform":[{"filter":"datum.k === 'up' || datum.k === 'lo'"}],"mark":{"type":"line","color":"#1b1b1b","strokeWidth":2},
 "encoding":{"x":{"field":"v","type":"quantitative","scale":{"domain":[-1373,14635],"nice":false,"zero":false},"axis":{"values":[0,2500,5000,7500,10000,12500],"format":"d","title":"Virgo-infall corrected velocity, vᵥᵢᵣ (km s⁻¹)"}},"y":{"field":"m","type":"quantitative","scale":{"domain":[22.02,39.08],"nice":false,"zero":false},"axis":{"values":[25,30,35],"format":"d","title":"Distance modulus (mag)","titleX":-68.5}},"detail":{"field":"k"}}},
{"data":{"name":"lines"},"transform":[{"filter":"datum.k === 'mu'"}],"mark":{"type":"line","color":"#1b1b1b","strokeWidth":3.2},
 "encoding":{"x":{"field":"v","type":"quantitative","scale":{"domain":[-1373,14635],"nice":false,"zero":false},"axis":{"values":[0,2500,5000,7500,10000,12500],"format":"d","title":"Virgo-infall corrected velocity, vᵥᵢᵣ (km s⁻¹)"}},"y":{"field":"m","type":"quantitative","scale":{"domain":[22.02,39.08],"nice":false,"zero":false},"axis":{"values":[25,30,35],"format":"d","title":"Distance modulus (mag)","titleX":-68.5}}}},
{"data":{"name":"lines"},"transform":[{"filter":"datum.k === 'upVC' || datum.k === 'loVC'"}],"mark":{"type":"line","color":"#1b1b1b","strokeWidth":2,"strokeDash":[6,3]},
 "encoding":{"x":{"field":"v","type":"quantitative","scale":{"domain":[-1373,14635],"nice":false,"zero":false},"axis":{"values":[0,2500,5000,7500,10000,12500],"format":"d","title":"Virgo-infall corrected velocity, vᵥᵢᵣ (km s⁻¹)"}},"y":{"field":"m","type":"quantitative","scale":{"domain":[22.02,39.08],"nice":false,"zero":false},"axis":{"values":[25,30,35],"format":"d","title":"Distance modulus (mag)","titleX":-68.5}},"detail":{"field":"k"}}},
{"data":{"name":"lines"},"transform":[{"filter":"datum.k === 'muVC'"}],"mark":{"type":"line","color":"#1b1b1b","strokeWidth":3.2,"strokeDash":[12,4,3,4]},
 "encoding":{"x":{"field":"v","type":"quantitative","scale":{"domain":[-1373,14635],"nice":false,"zero":false},"axis":{"values":[0,2500,5000,7500,10000,12500],"format":"d","title":"Virgo-infall corrected velocity, vᵥᵢᵣ (km s⁻¹)"}},"y":{"field":"m","type":"quantitative","scale":{"domain":[22.02,39.08],"nice":false,"zero":false},"axis":{"values":[25,30,35],"format":"d","title":"Distance modulus (mag)","titleX":-68.5}}}}
]
}],"spacing":0,"resolve":{"scale":{"color":"independent","shape":"independent"},"legend":{"color":"independent","shape":"independent"}}},
{"hconcat":[
{"width":1,"height":10,"data":{"values":[{"z":0}]},"mark":{"type":"point","opacity":0,"size":1},"view":{"stroke":null}},
{
"name":"p2","width":525,"height":291,
"data":{"name":"scatter"},
"mark":{"type":"line","strokeWidth":2.3},
"encoding":{
 "x":{"field":"v","type":"quantitative","scale":{"domain":[-1377,14688],"nice":false,"zero":false},"axis":{"values":[0,2500,5000,7500,10000,12500],"format":"d","title":"Virgo-infall corrected velocity, vᵥᵢᵣ (km s⁻¹)"}},
 "y":{"field":"s","type":"quantitative","scale":{"domain":[0.161,1.051],"nice":false,"zero":false},"axis":{"values":[0.2,0.4,0.6,0.8,1.0],"format":".1f","title":"Intrinsic scatter (mag)","titleX":-74}},
 "color":{"field":"g","type":"nominal","scale":{"domain":["nVC","VC"],"range":["#0173b2","#d55e00"]},
  "legend":{"title":null,"orient":"none","legendX":388,"legendY":11,"symbolType":"M-1,0H2.6","symbolSize":625,"symbolStrokeWidth":2.4,"labelOffset":38,"rowPadding":5,"padding":8}}
}
}],"spacing":0,"resolve":{"scale":{"color":"independent"},"legend":{"color":"independent"}}},
{"hconcat":[
{"width":1,"height":10,"data":{"values":[{"z":0}]},"mark":{"type":"point","opacity":0,"size":1},"view":{"stroke":null}},
{
"name":"p3","width":525,"height":290,
"layer":[
{"data":{"name":"ratio"},"mark":{"type":"area","color":"#cc78bc","opacity":0.4},
 "encoding":{
  "x":{"field":"v","type":"quantitative","scale":{"domain":[-518,14603],"nice":false,"zero":false},"axis":{"values":[0,2500,5000,7500,10000,12500],"format":"d","title":"Virgo-infall corrected velocity, vᵥᵢᵣ (km s⁻¹)"}},
  "y":{"field":"hlo","type":"quantitative","scale":{"domain":[0.49,2.295],"nice":false,"zero":false},"axis":{"values":[0.5,1.0,1.5,2.0],"format":".1f","title":"Local avg / Hubble flow","titleX":-74.7}},
  "y2":{"field":"hhi"}}},
{"data":{"name":"ratio"},"mark":{"type":"area","color":"#029e73","opacity":0.4},
 "encoding":{
  "x":{"field":"v","type":"quantitative","scale":{"domain":[-518,14603],"nice":false,"zero":false},"axis":{"values":[0,2500,5000,7500,10000,12500],"format":"d","title":"Virgo-infall corrected velocity, vᵥᵢᵣ (km s⁻¹)"}},
  "y":{"field":"plo","type":"quantitative","scale":{"domain":[0.49,2.295],"nice":false,"zero":false},"axis":{"values":[0.5,1.0,1.5,2.0],"format":".1f","title":"Local avg / Hubble flow","titleX":-74.7}},
  "y2":{"field":"phi"}}},
{"data":{"name":"ratio"},"transform":[{"fold":["hst","pl"],"as":["key","r"]}],"mark":{"type":"line","strokeWidth":2.3,"interpolate":"monotone"},
 "encoding":{
  "x":{"field":"v","type":"quantitative","scale":{"domain":[-518,14603],"nice":false,"zero":false},"axis":{"values":[0,2500,5000,7500,10000,12500],"format":"d","title":"Virgo-infall corrected velocity, vᵥᵢᵣ (km s⁻¹)"}},
  "y":{"field":"r","type":"quantitative","scale":{"domain":[0.49,2.295],"nice":false,"zero":false},"axis":{"values":[0.5,1.0,1.5,2.0],"format":".1f","title":"Local avg / Hubble flow","titleX":-74.7}},
  "color":{"field":"key","type":"nominal","scale":{"domain":["hst","pl"],"range":["#cc78bc","#029e73"]},
   "legend":{"title":null,"orient":"none","legendX":154,"legendY":11,"symbolType":"M-1,0H2.6","symbolSize":625,"symbolStrokeWidth":2.4,"labelOffset":38,"rowPadding":5,"padding":8,
    "labelExpr":"datum.value === 'hst' ? 'HST Key Project, h  =  0.72' : 'Planck 2015, h  =  0.678'"}}}},
{"data":{"values":[{"ref":1}]},"mark":{"type":"rule","color":"#1b1b1b","strokeWidth":2,"strokeDash":[7.5,3.2]},
 "encoding":{"y":{"field":"ref","type":"quantitative","scale":{"domain":[0.49,2.295],"nice":false,"zero":false},"axis":{"values":[0.5,1.0,1.5,2.0],"format":".1f","title":"Local avg / Hubble flow","titleX":-74.7}}}}
]
}],"spacing":0,"resolve":{"scale":{"color":"independent"},"legend":{"color":"independent"}}}
]
}
